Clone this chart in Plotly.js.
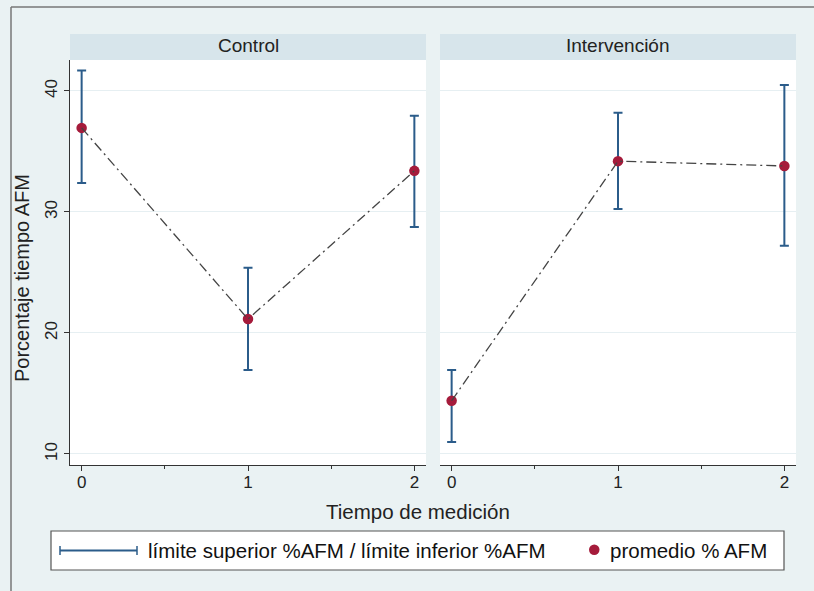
<!DOCTYPE html>
<html>
<head>
<meta charset="utf-8">
<script src="https://cdn.plot.ly/plotly-3.0.1.min.js"></script>
<style>html,body{margin:0;padding:0;background:#eaf2f3;}#chart{width:814px;height:591px;}</style>
</head>
<body>
<div id="chart"></div>
<script>
// ---- data ----
const timePoints = [0, 1, 2];
const tickLabels = ['0', '1', '2'];
const panelNames = ['Control', 'Intervención'];
const controlMean  = [36.95, 21.15, 33.4];
const controlUpper = [41.7, 25.4, 37.95];
const controlLower = [32.4, 16.95, 28.75];
const intervMean   = [14.4, 34.2, 33.8];
const intervUpper  = [16.95, 38.2, 40.5];
const intervLower  = [11.0, 30.25, 27.2];

const W = 814, H = 591;
const px = x => x / W;
const py = y => 1 - y / H;

const errColor = '#2b5c8a', dotColor = '#a51b3b', lineColor = '#444444';
const font = 'Liberation Sans, Arial, Helvetica, sans-serif';

function panelTraces(mean, upper, lower, xa, ya) {
  const plus = upper.map((u, i) => u - mean[i]);
  const minus = lower.map((l, i) => mean[i] - l);
  return [
    {x: timePoints, y: mean, xaxis: xa, yaxis: ya, type: 'scatter', mode: 'markers',
     marker: {size: 1, opacity: 0}, showlegend: false, hoverinfo: 'skip',
     error_y: {type: 'data', symmetric: false, array: plus, arrayminus: minus,
               color: errColor, thickness: 2, width: 4.5}},
    {x: timePoints, y: mean, xaxis: xa, yaxis: ya, type: 'scatter', mode: 'markers',
     marker: {color: dotColor, size: 10.5}, showlegend: false},
    {x: timePoints, y: mean, xaxis: xa, yaxis: ya, type: 'scatter', mode: 'lines',
     line: {color: lineColor, width: 1.3, dash: '10px,4px,2px,4px'}, showlegend: false}
  ];
}

const data = [
  ...panelTraces(controlMean, controlUpper, controlLower, 'x', 'y'),
  ...panelTraces(intervMean, intervUpper, intervLower, 'x2', 'y2')
];

const xCommon = {
  range: [-0.07, 2.07], tickvals: timePoints, ticktext: tickLabels,
  ticks: 'outside', ticklen: 5, tickwidth: 1, tickcolor: '#333',
  showline: true, linecolor: '#333', linewidth: 1, showgrid: false, zeroline: false,
  tickfont: {family: font, size: 17, color: '#222'}, ticklabelstandoff: -3,
  minor: {tickmode: 'array', tickvals: [0.5, 1.5], ticks: 'outside', ticklen: 3, tickcolor: '#333', showgrid: false},
  fixedrange: true
};
const yCommon = {
  range: [9.09, 42.56], tickvals: [10, 20, 30, 40],
  showgrid: true, gridcolor: '#e6eff2', gridwidth: 1, zeroline: false,
  tickfont: {family: font, size: 17, color: '#222'}, tickangle: -90,
  fixedrange: true
};

const layout = {
  width: W, height: H,
  margin: {l: 0, r: 0, t: 0, b: 0},
  paper_bgcolor: '#eaf2f3', plot_bgcolor: '#ffffff',
  font: {family: font, color: '#222'},
  xaxis: Object.assign({}, xCommon, {domain: [px(70), px(426)], anchor: 'y'}),
  xaxis2: Object.assign({}, xCommon, {domain: [px(440), px(796)], anchor: 'y2'}),
  yaxis: Object.assign({}, yCommon, {domain: [py(465), py(60)], anchor: 'x',
    showline: true, linecolor: '#333', linewidth: 1, ticks: 'outside', ticklen: 5, tickcolor: '#333'}),
  yaxis2: Object.assign({}, yCommon, {domain: [py(465), py(60)], anchor: 'x2',
    showline: false, ticks: '', showticklabels: false}),
  shapes: [
    // outer border
    {type: 'line', xref: 'paper', yref: 'paper', x0: px(11), x1: px(814), y0: py(7), y1: py(7), line: {color: '#777', width: 1.5}},
    {type: 'line', xref: 'paper', yref: 'paper', x0: px(11), x1: px(11), y0: py(7), y1: 0, line: {color: '#777', width: 1.5}},
    // strip headers
    {type: 'rect', xref: 'paper', yref: 'paper', x0: px(70), x1: px(426), y0: py(60), y1: py(34), fillcolor: '#d7e5eb', line: {width: 0}, layer: 'below'},
    {type: 'rect', xref: 'paper', yref: 'paper', x0: px(440), x1: px(796), y0: py(60), y1: py(34), fillcolor: '#d7e5eb', line: {width: 0}, layer: 'below'},
    // legend box
    {type: 'rect', xref: 'paper', yref: 'paper', x0: px(51), x1: px(784), y0: py(570), y1: py(531), fillcolor: '#ffffff', line: {color: '#555', width: 1.2}},
    // legend rcap symbol
    {type: 'line', xref: 'paper', yref: 'paper', x0: px(60), x1: px(137), y0: py(550.5), y1: py(550.5), line: {color: errColor, width: 2}},
    {type: 'line', xref: 'paper', yref: 'paper', x0: px(60), x1: px(60), y0: py(546), y1: py(555), line: {color: errColor, width: 1.5}},
    {type: 'line', xref: 'paper', yref: 'paper', x0: px(137), x1: px(137), y0: py(546), y1: py(555), line: {color: errColor, width: 1.5}},
    // legend marker symbol
    {type: 'circle', xref: 'paper', yref: 'paper', x0: px(589), x1: px(599.5), y0: py(555), y1: py(544.5), fillcolor: dotColor, line: {width: 0}}
  ],
  annotations: [
    {text: panelNames[0], xref: 'paper', yref: 'paper', x: px(248), y: py(46), xanchor: 'center', yanchor: 'middle', showarrow: false, font: {family: font, size: 19, color: '#222'}},
    {text: panelNames[1], xref: 'paper', yref: 'paper', x: px(618), y: py(46), xanchor: 'center', yanchor: 'middle', showarrow: false, font: {family: font, size: 19, color: '#222'}},
    {text: 'Tiempo de medición', xref: 'paper', yref: 'paper', x: px(418), y: py(511), xanchor: 'center', yanchor: 'middle', showarrow: false, font: {family: font, size: 20.5, color: '#222'}},
    {text: 'Porcentaje tiempo AFM', xref: 'paper', yref: 'paper', x: px(22), y: py(278), xanchor: 'center', yanchor: 'middle', textangle: -90, showarrow: false, font: {family: font, size: 20, color: '#222'}},
    {text: 'límite superior %AFM / límite inferior %AFM', xref: 'paper', yref: 'paper', x: px(146), y: py(550), xanchor: 'left', yanchor: 'middle', showarrow: false, font: {family: font, size: 20.5, color: '#111'}},
    {text: 'promedio % AFM', xref: 'paper', yref: 'paper', x: px(608), y: py(550), xanchor: 'left', yanchor: 'middle', showarrow: false, font: {family: font, size: 20.5, color: '#111'}}
  ]
};

Plotly.newPlot('chart', data, layout, {displayModeBar: false, staticPlot: true});
</script>
</body>
</html>
